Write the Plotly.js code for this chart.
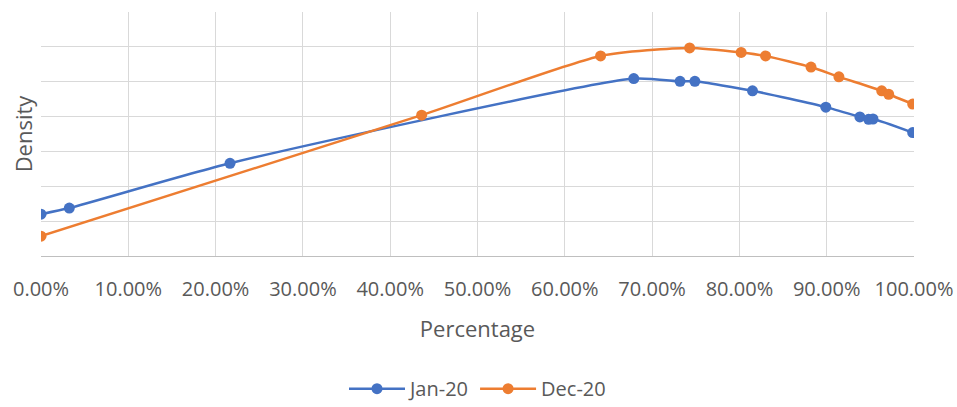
<!DOCTYPE html>
<html>
<head>
<meta charset="utf-8">
<script src="https://cdn.plot.ly/plotly-3.0.1.min.js"></script>
<style>html,body{margin:0;padding:0;background:#fff;}#chart{width:957px;height:407px;}</style>
</head>
<body>
<div id="chart"></div>
<script>
// Data (x = share, y = density in gridline units)
const janX = [0.0, 0.0324, 0.2165, 0.679, 0.732, 0.749, 0.815, 0.899, 0.938, 0.948, 0.953, 0.9985];
const janY = [1.20, 1.375, 2.66, 5.09, 5.01, 5.01, 4.74, 4.27, 3.99, 3.92, 3.93, 3.54];
const decX = [0.0, 0.436, 0.641, 0.743, 0.802, 0.830, 0.882, 0.914, 0.963, 0.971, 0.9985];
const decY = [0.57, 4.04, 5.74, 5.97, 5.84, 5.74, 5.42, 5.14, 4.74, 4.64, 4.36];
const seriesNames = ["Jan-20", "Dec-20"];

const font = "Open Sans, Segoe UI, sans-serif";
const grey = "#595959";

const traces = [
  {x: janX, y: janY, name: seriesNames[0], type: "scatter", mode: "lines+markers",
   line: {color: "#4472C4", width: 2.5, shape: "spline", smoothing: 0.6},
   marker: {color: "#4472C4", size: 11}},
  {x: decX, y: decY, name: seriesNames[1], type: "scatter", mode: "lines+markers",
   line: {color: "#ED7D31", width: 2.5, shape: "spline", smoothing: 0.6},
   marker: {color: "#ED7D31", size: 11}}
];

const layout = {
  width: 957, height: 407,
  margin: {l: 41, r: 43, t: 12, b: 151, autoexpand: false},
  paper_bgcolor: "#fff", plot_bgcolor: "#fff",
  showlegend: true,
  legend: {orientation: "h", x: 0.5, xanchor: "center", yref: "container", y: 0.045, yanchor: "middle",
           font: {family: font, size: 20, color: grey}, itemwidth: 56},
  xaxis: {
    range: [0, 1], dtick: 0.1, tick0: 0, tickformat: ".2%",
    showgrid: true, gridcolor: "#d9d9d9", gridwidth: 1,
    zeroline: false, showline: true, linecolor: "#bfbfbf", linewidth: 1,
    ticks: "", ticklabelstandoff: 15,
    tickfont: {family: font, size: 20, color: grey},
    title: {text: "Percentage", font: {family: font, size: 22, color: grey}, standoff: 20},
    automargin: false, fixedrange: true
  },
  yaxis: {
    range: [0, 7], dtick: 1, tick0: 0,
    showgrid: true, gridcolor: "#d9d9d9", gridwidth: 1,
    zeroline: false, showline: false, showticklabels: false, ticks: "",
    title: {text: "Density", font: {family: font, size: 22, color: grey}, standoff: 1},
    automargin: false, fixedrange: true
  }
};

Plotly.newPlot("chart", traces, layout, {displayModeBar: false, staticPlot: true});
</script>
</body>
</html>
